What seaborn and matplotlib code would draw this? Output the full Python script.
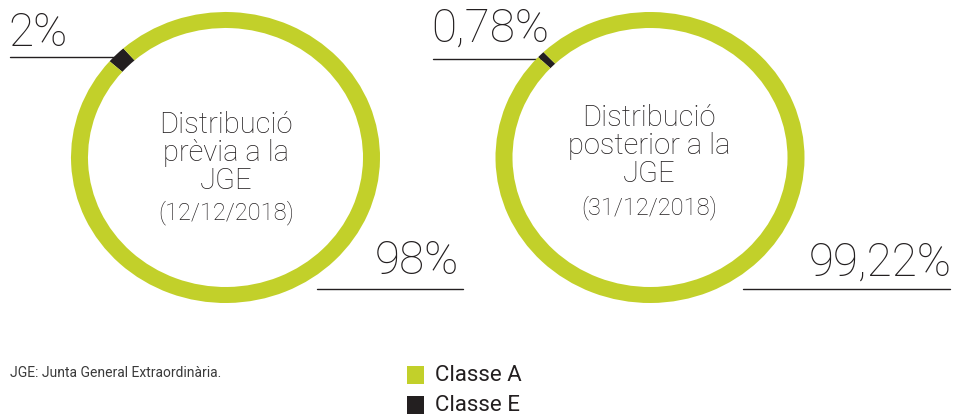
import matplotlib
matplotlib.use("Agg")
import matplotlib.pyplot as plt
import seaborn as sns
import pandas as pd

# data
classes = ["Classe A", "Classe E"]
before = [98.0, 2.0]
after = [99.22, 0.78]
before_labels = ["98%", "2%"]
after_labels = ["99,22%", "0,78%"]
titles = ["Distribució\nprèvia a la\nJGE", "Distribució\nposterior a la\nJGE"]
dates = ["(12/12/2018)", "(31/12/2018)"]
footnote = "JGE: Junta General Extraordinària."

sns.set_theme(style="white")
plt.rcParams['font.family'] = ['Roboto', 'DejaVu Sans']

palette = sns.color_palette(["#c2d02a", "#231f20"])
txt = "#231f20"

df = pd.DataFrame({"classe": classes, "abans": before, "despres": after})

W, H = 955, 415
fig = plt.figure(figsize=(W / 100, H / 100), dpi=100)
bg = fig.add_axes([0, 0, 1, 1])
bg.set_xlim(0, W)
bg.set_ylim(H, 0)
bg.axis("off")

rx, ry = 154.5, 145.5
centers = [(225.5, 157.5), (650, 157.5)]


def ring(cx, cy, vals):
    ax = fig.add_axes([(cx - rx) / W, (H - cy - ry) / H, 2 * rx / W, 2 * ry / H])
    # small segment first, centred at ~135 deg
    small = vals[1] / sum(vals) * 360
    ax.pie([vals[1], vals[0]], colors=[palette[1], palette[0]],
           startangle=135 - small / 2, counterclock=True, radius=1,
           wedgeprops=dict(width=0.11, linewidth=0))
    ax.set_aspect("auto")
    ax.set_xlim(-1, 1)
    ax.set_ylim(-1, 1)
    ax.axis("off")
    return ax


ring(*centers[0], df["abans"].tolist())
ring(*centers[1], df["despres"].tolist())

big = dict(fontsize=33, fontweight="light", color=txt, va="baseline")

# leader lines and labels
bg.plot([10, 118], [57, 57], color=txt, lw=1)
bg.text(8, 46, before_labels[1], **big)
bg.plot([317, 463], [289, 289], color=txt, lw=1)
bg.text(459, 274, before_labels[0], ha="right", **big)

bg.plot([433, 542], [59, 59], color=txt, lw=1)
bg.text(431, 42, after_labels[1], **big)
bg.plot([743, 950], [289, 289], color=txt, lw=1)
bg.text(952, 276, after_labels[0], ha="right", **big)

# centre texts
bg.text(226, 153, titles[0], fontsize=21, fontweight="light", color=txt, ha="center",
        va="center", linespacing=0.98)
bg.text(226, 213, dates[0], fontsize=17, fontweight="light", color=txt, ha="center", va="center")
bg.text(649, 146, titles[1], fontsize=21, fontweight="light", color=txt, ha="center",
        va="center", linespacing=0.98)
bg.text(649, 208, dates[1], fontsize=17, fontweight="light", color=txt, ha="center", va="center")

# footnote
bg.text(10, 373, footnote, fontsize=10, color="#3a3a3a", va="center")

# legend
for i, (name, col) in enumerate(zip(classes, palette)):
    y0 = 366 + i * 30
    bg.add_patch(plt.Rectangle((407, y0), 17, 18, color=col, lw=0))
    bg.text(435, y0 + 9, name, fontsize=16, color=txt, va="center")

fig.savefig("out.png", dpi=100)
